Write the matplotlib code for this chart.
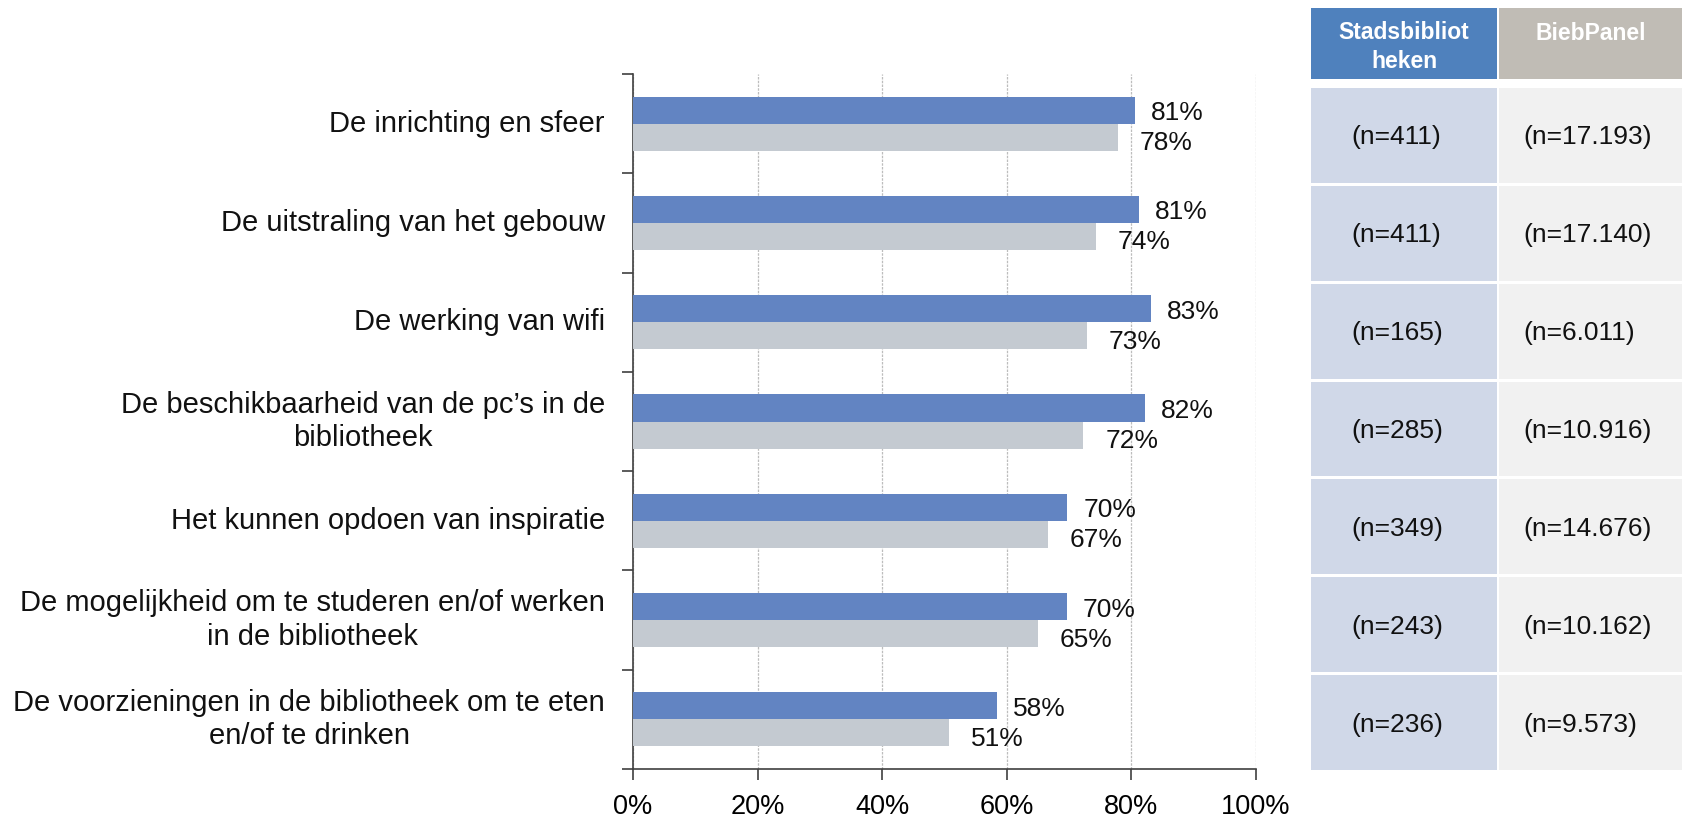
import numpy as np
import matplotlib
matplotlib.use("Agg")
import matplotlib.pyplot as plt
from matplotlib.patches import Rectangle

plt.rcParams['font.family'] = ['Liberation Sans', 'DejaVu Sans']

# survey items, top to bottom
categories = [
    "De inrichting en sfeer",
    "De uitstraling van het gebouw",
    "De werking van wifi",
    "De beschikbaarheid van de pc\u2019s in de\nbibliotheek",
    "Het kunnen opdoen van inspiratie",
    "De mogelijkheid om te studeren en/of werken\nin de bibliotheek",
    "De voorzieningen in de bibliotheek om te eten\nen/of te drinken",
]
stads = [80.6, 81.2, 83.1, 82.2, 69.7, 69.6, 58.4]
biebpanel = [77.8, 74.3, 72.8, 72.3, 66.6, 65.0, 50.7]
n_stads = ["(n=411)", "(n=411)", "(n=165)", "(n=285)", "(n=349)", "(n=243)", "(n=236)"]
n_bieb = ["(n=17.193)", "(n=17.140)", "(n=6.011)", "(n=10.916)", "(n=14.676)",
          "(n=10.162)", "(n=9.573)"]
headers = ["Stadsbibliot\nheken", "BiebPanel"]
xticks = [0, 20, 40, 60, 80, 100]

BLUE = "#6284C2"
GREY = "#C4CAD1"

W, H = 1683, 818
fig = plt.figure(figsize=(W / 100, H / 100), dpi=100)

# bar chart
ax_l, ax_r, ax_t, ax_b = 633, 1256, 74, 769
ax = fig.add_axes([ax_l / W, 1 - ax_b / H, (ax_r - ax_l) / W, (ax_b - ax_t) / H])

y = np.arange(len(categories))
bh = 0.272
ax.barh(y - bh / 2, stads, height=bh, color=BLUE, edgecolor="none", zorder=3)
ax.barh(y + bh / 2, biebpanel, height=bh, color=GREY, edgecolor="none", zorder=3)

for yi, v in zip(y, stads):
    ax.annotate(f"{v:.0f}%", (v, yi - bh / 2), xytext=(16, -3), textcoords="offset pixels",
                va="center", ha="left", fontsize=19, color="#111111")
for yi, v in zip(y, biebpanel):
    ax.annotate(f"{v:.0f}%", (v, yi + bh / 2), xytext=(22, -6), textcoords="offset pixels",
                va="center", ha="left", fontsize=19, color="#111111")

ax.set_xlim(0, 100)
ax.set_ylim(len(categories) - 0.5, -0.5)
ax.set_xticks(xticks)
ax.set_xticklabels([f"{t}%" for t in xticks], fontsize=19.5)
ax.set_yticks(np.arange(len(categories) + 1) - 0.5)
ax.set_yticklabels([])
ax.tick_params(axis="both", length=8, width=1.2, color="#404040", direction="out")
ax.tick_params(axis="x", pad=10)
ax.xaxis.grid(True, linestyle=(0, (2, 1)), color="#BDBDBD", linewidth=0.9, zorder=0)
for side in ("top", "right"):
    ax.spines[side].set_visible(False)
for side in ("left", "bottom"):
    ax.spines[side].set_color("#404040")
    ax.spines[side].set_linewidth(1.2)

for yi, label in zip(y, categories):
    ax.text(-0.045, yi, label, transform=ax.get_yaxis_transform(), ha="right",
            va="center", multialignment="center", fontsize=21, color="#111111",
            linespacing=1.25)

# sample size table
tb_l, tb_r, tb_t, tb_b = 1311, 1683, 8, 770
tab = fig.add_axes([tb_l / W, 1 - tb_b / H, (tb_r - tb_l) / W, (tb_b - tb_t) / H])
tab.set_xlim(0, tb_r - tb_l)
tab.set_ylim(tb_b - tb_t, 0)
tab.axis("off")

col_x = [(0, 186), (188, 372)]
head_cols = ["#4F81BD", "#C0BCB5"]
cell_cols = ["#D0D8E8", "#F1F1F1"]
head_h = 71
row0 = 80
pitch = (tb_b - tb_t - row0 + 3) / len(categories)

for (x0, x1), txt, c in zip(col_x, headers, head_cols):
    tab.add_patch(Rectangle((x0, 0), x1 - x0, head_h, facecolor=c, edgecolor="none"))
    tab.text((x0 + x1) / 2, 39 if "\n" in txt else 26, txt, ha="center", va="center",
             color="white", fontsize=16.5, fontweight="bold", linespacing=1.3)

for i in range(len(categories)):
    top = row0 + i * pitch
    for (x0, x1), c, txt in zip(col_x, cell_cols, (n_stads[i], n_bieb[i])):
        tab.add_patch(Rectangle((x0, top), x1 - x0, pitch - 3, facecolor=c, edgecolor="none"))
        tab.text(x0 + 40 if x0 == 0 else x0 + 24, top + (pitch - 3) / 2 + 2, txt, ha="left",
                 va="center", fontsize=19, color="#111111")

fig.savefig("out.png", dpi=100)
